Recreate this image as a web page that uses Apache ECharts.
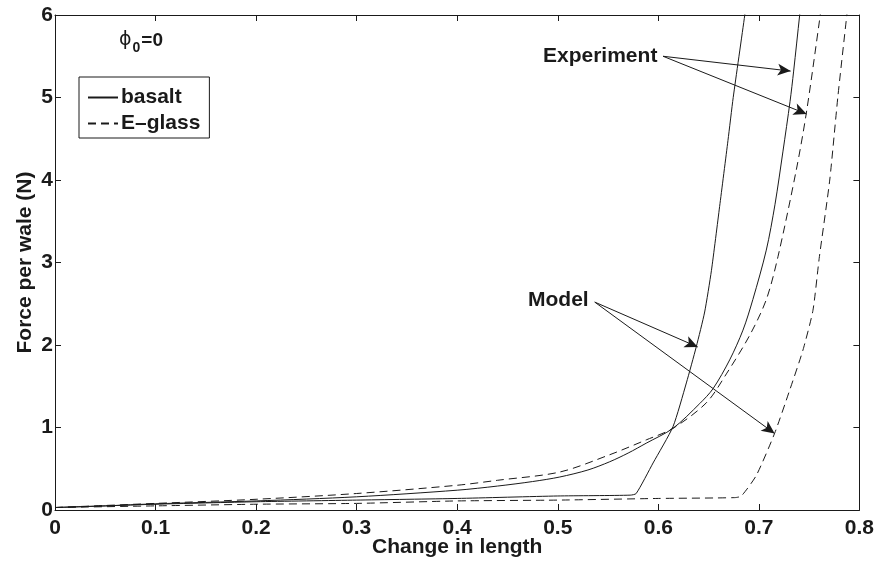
<!DOCTYPE html>
<html>
<head>
<meta charset="utf-8">
<script src="https://cdn.jsdelivr.net/npm/echarts@6/dist/echarts.min.js"></script>
<style>
  html, body { margin: 0; padding: 0; background: #fff; }
  #chart { width: 877px; height: 565px; }
</style>
</head>
<body>
<div id="chart"></div>
<script>
// values
const xTicks = [0, 0.1, 0.2, 0.3, 0.4, 0.5, 0.6, 0.7, 0.8]
const yTicks = [0, 1, 2, 3, 4, 5, 6]

// basalt, experiment (solid)
const basaltExpX = [0, 0.05, 0.1, 0.2, 0.3, 0.4, 0.44, 0.475, 0.502, 0.53, 0.5517, 0.57, 0.588, 0.6146, 0.6412, 0.6544, 0.671, 0.6842, 0.694, 0.7074, 0.716, 0.724, 0.731, 0.7346, 0.7406, 0.742]
const basaltExpY = [0.03, 0.05, 0.075, 0.11, 0.16, 0.24, 0.29, 0.345, 0.40, 0.485, 0.585, 0.69, 0.81, 0.99, 1.29, 1.47, 1.82, 2.18, 2.55, 3.15, 3.70, 4.35, 4.95, 5.32, 6.0, 6.15]

// E-glass, experiment (dashed)
const eglassExpX = [0, 0.05, 0.1, 0.2, 0.3, 0.4, 0.44, 0.502, 0.5517, 0.588, 0.6146, 0.6478, 0.6677, 0.691, 0.7074, 0.719, 0.7372, 0.7472, 0.7604, 0.762]
const eglassExpY = [0.03, 0.055, 0.08, 0.13, 0.2, 0.3, 0.36, 0.46, 0.67, 0.85, 0.99, 1.30, 1.65, 2.12, 2.55, 3.07, 4.12, 4.81, 5.94, 6.1]

// basalt, model (solid)
const basaltModelX = [0, 0.05, 0.1, 0.2, 0.3, 0.4, 0.5, 0.572, 0.578, 0.5948, 0.6146, 0.6279, 0.6378, 0.6461, 0.6528, 0.661, 0.6693, 0.6745, 0.686, 0.688]
const basaltModelY = [0.03, 0.05, 0.07, 0.10, 0.12, 0.14, 0.17, 0.18, 0.20, 0.57, 1.01, 1.54, 1.98, 2.40, 2.90, 3.68, 4.48, 5.0, 6.0, 6.2]

// E-glass, model (dashed)
const eglassModelX = [0, 0.1, 0.2, 0.3, 0.4, 0.5, 0.6, 0.676, 0.6826, 0.6975, 0.7157, 0.7306, 0.7439, 0.7538, 0.760, 0.7705, 0.7785, 0.7875, 0.789]
const eglassModelY = [0.03, 0.05, 0.07, 0.08, 0.11, 0.12, 0.14, 0.15, 0.17, 0.42, 0.93, 1.45, 1.94, 2.42, 3.05, 4.0, 5.0, 6.0, 6.15]

// annotation arrows [from, to] in data units
const experimentArrows = [[[0.6047, 5.50], [0.7316, 5.32]], [[0.6047, 5.50], [0.7475, 4.80]]]
const modelArrows = [[[0.5368, 2.52], [0.6392, 1.976]], [[0.5368, 2.52], [0.7157, 0.927]]]

const FONT = "'Liberation Sans', Arial, sans-serif"
const INK = '#1a1a1a'
const DASH = [8, 5]
const FS = 21

const toPairs = (xs, ys) => xs.map((x, i) => [x, ys[i]])

const arrowLines = arr => arr.map(a => [{ coord: a[0] }, { coord: a[1] }])

const chart = echarts.init(document.getElementById('chart'))

const axisCommon = {
  type: 'value',
  axisLine: { show: true, onZero: false, lineStyle: { color: INK, width: 1 } },
  axisTick: { show: true, inside: true, length: 6, lineStyle: { color: INK } },
  splitLine: { show: false }
}

const lineCommon = {
  type: 'line', symbol: 'none', smooth: 0.3,
  itemStyle: { color: INK }
}

chart.setOption({
  animation: false,
  backgroundColor: '#fff',
  grid: { left: 55, right: 17, top: 15, bottom: 55 },
  xAxis: [
    Object.assign({}, axisCommon, {
      position: 'bottom', min: xTicks[0], max: xTicks[xTicks.length - 1], interval: 0.1,
      name: 'Change in length', nameLocation: 'middle', nameGap: 27, nameMoveOverlap: false,
      nameTextStyle: { fontFamily: FONT, fontWeight: 'bold', fontSize: FS, color: INK },
      axisLabel: { margin: 8, fontFamily: FONT, fontWeight: 'bold', fontSize: FS, color: INK }
    }),
    Object.assign({}, axisCommon, {
      position: 'top', min: xTicks[0], max: xTicks[xTicks.length - 1], interval: 0.1,
      axisLabel: { show: false }
    })
  ],
  yAxis: [
    Object.assign({}, axisCommon, {
      position: 'left', min: yTicks[0], max: yTicks[yTicks.length - 1], interval: 1,
      name: 'Force per wale (N)', nameLocation: 'middle', nameGap: 19, nameMoveOverlap: false,
      nameTextStyle: { fontFamily: FONT, fontWeight: 'bold', fontSize: FS, color: INK },
      axisLabel: { margin: 2, fontFamily: FONT, fontWeight: 'bold', fontSize: FS, color: INK }
    }),
    Object.assign({}, axisCommon, {
      position: 'right', min: yTicks[0], max: yTicks[yTicks.length - 1], interval: 1,
      axisLabel: { show: false }
    })
  ],
  legend: {
    data: ['basalt', 'E–glass'],
    orient: 'vertical',
    left: 79, top: 77,
    padding: [10, 9, 4, 8],
    itemWidth: 30, itemHeight: 14, itemGap: 5,
    borderColor: INK, borderWidth: 1,
    itemStyle: { opacity: 0 },
    textStyle: { fontFamily: FONT, fontWeight: 'bold', fontSize: FS, color: INK, padding: [0, 0, 0, -2] }
  },
  series: [
    Object.assign({}, lineCommon, {
      name: 'basalt', data: toPairs(basaltExpX, basaltExpY),
      lineStyle: { color: INK, width: 1 },
      markLine: {
        silent: true, symbol: ['none', 'arrow'], symbolSize: [9, 13],
        label: { show: false },
        lineStyle: { color: INK, width: 1, type: 'solid' },
        data: arrowLines(experimentArrows)
      }
    }),
    Object.assign({}, lineCommon, {
      name: 'E–glass', data: toPairs(eglassExpX, eglassExpY),
      lineStyle: { color: INK, width: 1, type: DASH }
    }),
    Object.assign({}, lineCommon, {
      name: 'basalt model', data: toPairs(basaltModelX, basaltModelY),
      smooth: 0.2,
      lineStyle: { color: INK, width: 1 },
      markLine: {
        silent: true, symbol: ['none', 'arrow'], symbolSize: [9, 13],
        label: { show: false },
        lineStyle: { color: INK, width: 1, type: 'solid' },
        data: arrowLines(modelArrows)
      }
    }),
    Object.assign({}, lineCommon, {
      name: 'E–glass model', data: toPairs(eglassModelX, eglassModelY),
      smooth: 0.2,
      lineStyle: { color: INK, width: 1, type: DASH }
    })
  ],
  graphic: [
    {
      type: 'text', left: 543, top: 46,
      style: { text: 'Experiment', font: 'bold ' + FS + 'px ' + FONT, fill: INK }
    },
    {
      type: 'text', left: 528, top: 290,
      style: { text: 'Model', font: 'bold ' + FS + 'px ' + FONT, fill: INK }
    },
    {
      type: 'text', left: 119, top: 31,
      style: {
        text: '{p|ϕ}{s|0}{e|=0}',
        fill: INK,
        rich: {
          p: { fontFamily: "'DejaVu Sans', sans-serif", fontSize: 19, fill: INK },
          s: { fontFamily: FONT, fontWeight: 'bold', fontSize: 14, padding: [15, 1, 0, 1], fill: INK },
          e: { fontFamily: FONT, fontWeight: 'bold', fontSize: 19, fill: INK }
        }
      }
    }
  ]
})
</script>
</body>
</html>
